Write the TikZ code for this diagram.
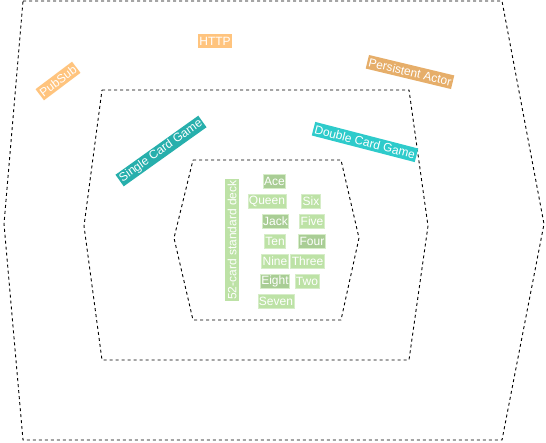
\documentclass[tikz,border=0pt]{standalone}
\usepackage{fontspec}
\setmainfont{Liberation Sans}
\definecolor{httpc}{HTML}{FFC47E}
\definecolor{pubsubc}{HTML}{FFC47E}
\definecolor{actorc}{HTML}{E6AE6A}
\definecolor{singlec}{HTML}{27AFAC}
\definecolor{doublec}{HTML}{2ECBCB}
\definecolor{lightg}{HTML}{BDE2A6}
\definecolor{darkg}{HTML}{A9CD95}
\definecolor{edgeg}{HTML}{D6EDC8}
\begin{document}
\begin{tikzpicture}[x=1pt,y=-1pt,
  hexline/.style={draw=black,line width=0.9pt,dash pattern=on 3pt off 3pt},
  tag/.style={text=white,font=\fontsize{12}{14}\selectfont,inner sep=1.5pt,minimum height=14pt},
  card/.style={tag,fill=lightg,draw=edgeg,line width=0.8pt,inner sep=1pt},
  darkcard/.style={card,fill=darkg}]
\useasboundingbox (0,0) rectangle (546,442);
% hexagons
\draw[hexline] (23,1) -- (502,1) -- (544,224) -- (502,440) -- (23,440) -- (4,224) -- cycle;
\draw[hexline] (102,90) -- (409,90) -- (428,226) -- (409,360) -- (102,360) -- (84,226) -- cycle;
\draw[hexline] (193,160) -- (341,160) -- (359,238) -- (341,320) -- (193,320) -- (174,238) -- cycle;
% outer tags
\node[tag,fill=httpc] (http) at (215,41) {HTTP};
\node[tag,fill=pubsubc,rotate=37] (pubsub) at (58,81) {PubSub};
\node[tag,fill=actorc,rotate=-13.5] (actor) at (410,72) {Persistent Actor};
\node[tag,fill=singlec,rotate=35.5] (single) at (161,151) {Single Card Game};
\node[tag,fill=doublec,rotate=-14.5] (double) at (365,142) {Double Card Game};
% deck
\node[tag,fill=lightg,rotate=90,inner sep=1pt] (deck) at (232,240) {52-card standard deck};
\node[darkcard] (ace) at (274.5,181) {Ace};
\node[card] (queen) at (267,201) {Queen};
\node[card] (six) at (311,201) {Six};
\node[darkcard] (jack) at (275.5,221) {Jack};
\node[card] (five) at (312,221) {Five};
\node[card] (ten) at (275,241) {Ten};
\node[darkcard] (four) at (312,241) {Four};
\node[card] (nine) at (275,261) {Nine};
\node[card] (three) at (307.5,261) {Three};
\node[darkcard] (eight) at (275,281) {Eight};
\node[card] (two) at (307,281) {Two};
\node[card] (seven) at (276,301) {Seven};
\end{tikzpicture}
\end{document}
